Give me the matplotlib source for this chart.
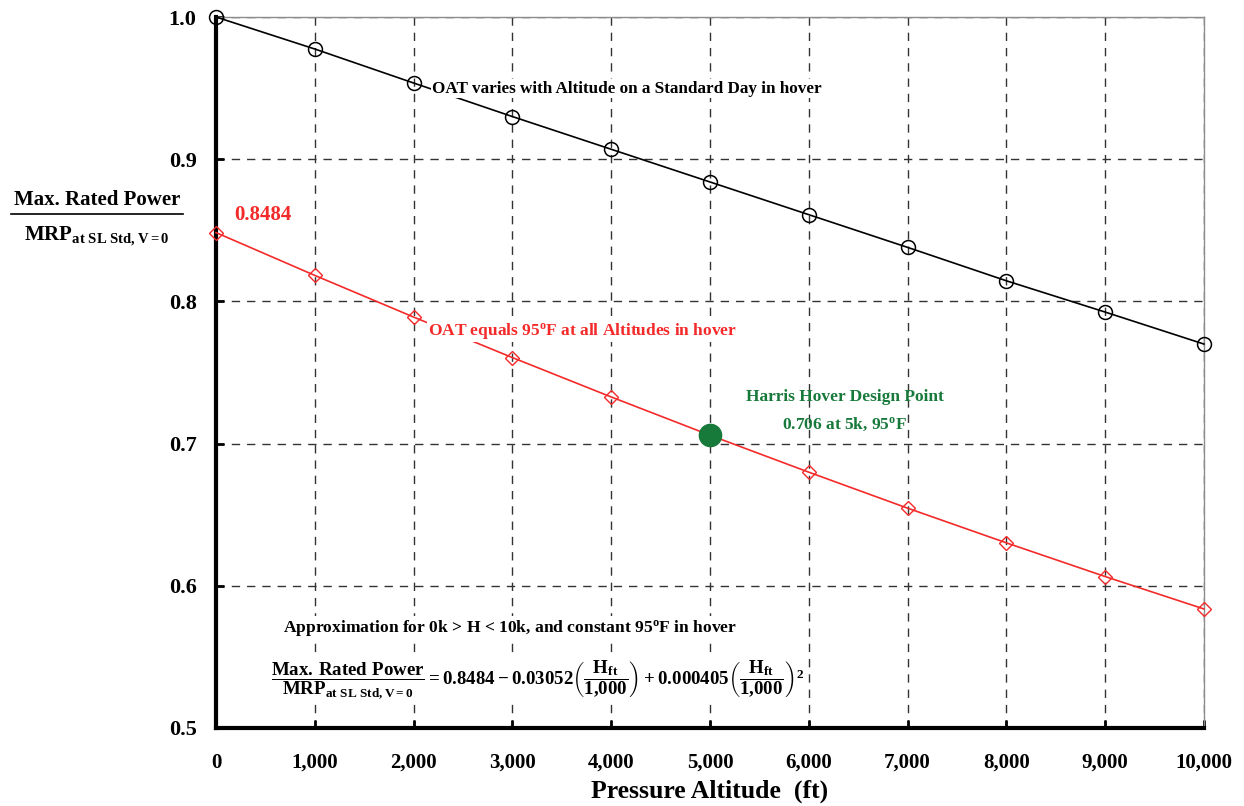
import numpy as np
import matplotlib
matplotlib.use("Agg")
import matplotlib.pyplot as plt
from matplotlib.lines import Line2D

# ==========================================
# Data
# ==========================================

altitude_ft = [0, 1000, 2000, 3000, 4000, 5000, 6000, 7000, 8000, 9000, 10000]

# standard day, OAT varies with altitude
std_day_ratio = [1.000, 0.9775, 0.9536, 0.930, 0.907, 0.884, 0.861, 0.838, 0.8145, 0.7925, 0.770]

# OAT held at 95 F
hot_day_ratio = [0.8484, 0.8183, 0.7890, 0.7605, 0.7328, 0.7059, 0.6799, 0.6546, 0.6302, 0.6065, 0.5837]

design_alt = 5000
design_ratio = 0.706

x_ticks = [0, 1000, 2000, 3000, 4000, 5000, 6000, 7000, 8000, 9000, 10000]
x_tick_labels = ["0", "1,000", "2,000", "3,000", "4,000", "5,000",
                 "6,000", "7,000", "8,000", "9,000", "10,000"]
y_ticks = [0.5, 0.6, 0.7, 0.8, 0.9, 1.0]
y_tick_labels = ["0.5", "0.6", "0.7", "0.8", "0.9", "1.0"]

RED = "#f42a2a"
GREEN = "#17793a"

# ==========================================
# Style
# ==========================================

plt.rcParams["font.family"] = ["Liberation Serif", "DejaVu Serif"]
plt.rcParams["font.weight"] = "bold"
plt.rcParams["mathtext.fontset"] = "custom"
plt.rcParams["mathtext.rm"] = "Liberation Serif:bold"
plt.rcParams["mathtext.bf"] = "Liberation Serif:bold"
plt.rcParams["mathtext.it"] = "Liberation Serif:bold"

fig = plt.figure(figsize=(12.44, 8.06), dpi=100)
ax = fig.add_axes([0.1736, 0.0968, 0.7942, 0.8821])

# ==========================================
# Curves
# ==========================================

ax.plot(altitude_ft, std_day_ratio, color="black", lw=1.2, marker="o",
        ms=10, mfc="none", mec="black", mew=1.1, zorder=3, clip_on=False)
ax.plot(altitude_ft, hot_day_ratio, color=RED, lw=1.2, marker="D",
        ms=7.5, mfc="none", mec=RED, mew=1.0, zorder=3, clip_on=False)
ax.plot(design_alt, design_ratio, "o", color=GREEN, ms=16, zorder=4)

# ==========================================
# Axes
# ==========================================

ax.set_xlim(0, 10000)
ax.set_ylim(0.5, 1.0)
ax.set_xticks(x_ticks)
ax.set_xticklabels(x_tick_labels, fontsize=15, fontweight="bold")
ax.set_yticks(y_ticks)
ax.set_yticklabels(y_tick_labels, fontsize=16, fontweight="bold")
ax.tick_params(axis="x", direction="in", length=6, width=2, pad=18)
ax.tick_params(axis="y", direction="in", length=6, width=2, pad=14)

ax.grid(True, linestyle=(0, (6, 5)), color="#333333", lw=1.0)
ax.set_axisbelow(True)

for side in ["left", "bottom"]:
    ax.spines[side].set_linewidth(3)
    ax.spines[side].set_color("black")
for side in ["top", "right"]:
    ax.spines[side].set_linewidth(1)
    ax.spines[side].set_color("#8c8c8c")

ax.set_xlabel("Pressure Altitude  (ft)", fontsize=18.5, fontweight="bold", labelpad=5)

# y label drawn as a fraction
fig.text(0.078, 0.752, "Max. Rated Power", ha="center", va="center",
         fontsize=15, fontweight="bold")
fig.add_artist(Line2D([0.009, 0.147], [0.735, 0.735], color="black", lw=1.2,
                      transform=fig.transFigure))
fig.text(0.078, 0.707, r"MRP$_{\mathrm{at\ SL\ Std,V=0}}$", ha="center", va="center",
         fontsize=15, fontweight="bold")

# ==========================================
# Annotations
# ==========================================

box = dict(facecolor="white", edgecolor="none", pad=1)

ax.text(2190, 0.9495, "OAT varies with Altitude on a Standard Day in hover",
        fontsize=12.3, fontweight="bold", ha="left", va="center", bbox=box, zorder=5)
ax.text(190, 0.8605, "0.8484", color=RED, fontsize=15, fontweight="bold",
        ha="left", va="center")
ax.text(2150, 0.7792, r"OAT equals 95$^{\mathrm{o}}$F at all Altitudes in hover",
        color=RED, fontsize=12.5, fontweight="bold", ha="left", va="center",
        bbox=box, zorder=5)
ax.text(6366, 0.7328, "Harris Hover Design Point", color=GREEN, fontsize=12.5,
        fontweight="bold", ha="center", va="center")
ax.text(6366, 0.7138, r"0.706 at 5k, 95$^{\mathrm{o}}$F", color=GREEN, fontsize=12.5,
        fontweight="bold", ha="center", va="center")

ax.text(680, 0.5705, r"Approximation for 0k > H < 10k, and constant 95$^{\mathrm{o}}$F in hover",
        fontsize=12.6, fontweight="bold", ha="left", va="center", bbox=box, zorder=5)

equation = (r"$\dfrac{\mathrm{Max.\,Rated\ Power}}{\mathrm{MRP}_{\mathrm{at\ SL\ Std,V=0}}}"
            r" = 0.8484 - 0.03052\left(\dfrac{\mathrm{H}_{\mathrm{ft}}}{1{,}000}\right)"
            r" + 0.000405\left(\dfrac{\mathrm{H}_{\mathrm{ft}}}{1{,}000}\right)^{2}$")
ax.text(560, 0.534, equation, fontsize=13.6, ha="left", va="center", bbox=box, zorder=5)

plt.savefig("out.png", dpi=100)
plt.close()
